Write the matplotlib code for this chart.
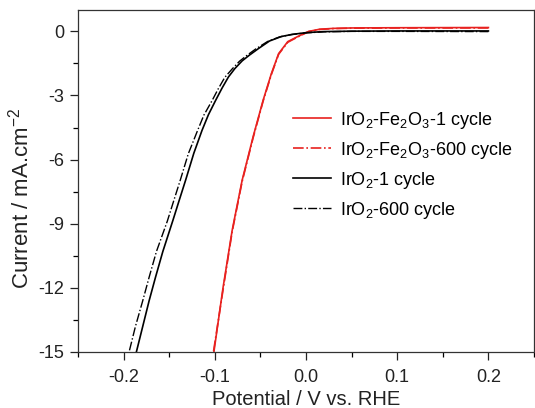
import matplotlib
matplotlib.use('Agg')
import matplotlib.pyplot as plt
from matplotlib.ticker import MultipleLocator

# 글꼴 설정 (Arial 대신 Liberation Sans)
plt.rcParams['font.family'] = ['Liberation Sans', 'DejaVu Sans']
plt.rcParams['mathtext.fontset'] = 'custom'
plt.rcParams['mathtext.rm'] = 'Liberation Sans'
plt.rcParams['mathtext.it'] = 'Liberation Sans:italic'
plt.rcParams['mathtext.bf'] = 'Liberation Sans:bold'
plt.rcParams['axes.unicode_minus'] = False  # 마이너스 기호는 하이픈으로

# IrO2-Fe2O3, 1 cycle
fe_1_x = [0.20, 0.10, 0.05, 0.03, 0.015, 0.003, -0.009, -0.020, -0.030, -0.038,
          -0.047, -0.058, -0.064, -0.070, -0.081, -0.091, -0.101]
fe_1_y = [0.18, 0.17, 0.16, 0.14, 0.10, 0.00, -0.24, -0.48, -1.04, -1.98,
          -3.22, -4.93, -5.95, -6.96, -9.32, -12.0, -15.0]
# IrO2-Fe2O3, 600 cycle
fe_600_x = [0.20, 0.10, 0.05, 0.03, 0.015, 0.003, -0.009, -0.020, -0.030, -0.038,
            -0.047, -0.058, -0.064, -0.070, -0.081, -0.091, -0.1015]
fe_600_y = [0.16, 0.16, 0.15, 0.13, 0.09, -0.01, -0.26, -0.51, -1.07, -2.02,
            -3.26, -4.98, -6.00, -7.02, -9.38, -12.1, -15.0]
# IrO2, 1 cycle
ir_1_x = [0.20, 0.10, 0.05, 0.02, 0.00, -0.015, -0.027, -0.040, -0.052, -0.062,
          -0.070, -0.078, -0.085, -0.092, -0.099, -0.107, -0.114, -0.123,
          -0.132, -0.139, -0.146, -0.157, -0.165, -0.172, -0.179, -0.186]
ir_1_y = [0.02, 0.02, 0.01, -0.01, -0.06, -0.14, -0.24, -0.45, -0.80, -1.11,
          -1.38, -1.74, -2.13, -2.65, -3.22, -3.90, -4.63, -5.70,
          -6.96, -7.90, -8.85, -10.3, -11.5, -12.6, -13.8, -15.0]
# IrO2, 600 cycle
ir_600_x = [0.20, 0.10, 0.05, 0.02, 0.00, -0.016, -0.029, -0.042, -0.055, -0.065,
            -0.073, -0.081, -0.089, -0.096, -0.103, -0.112, -0.119, -0.129,
            -0.138, -0.145, -0.152, -0.164, -0.172, -0.179, -0.187, -0.194]
ir_600_y = [-0.01, 0.00, 0.00, -0.02, -0.07, -0.15, -0.26, -0.47, -0.82, -1.13,
            -1.40, -1.76, -2.15, -2.67, -3.24, -3.92, -4.65, -5.72,
            -6.98, -7.92, -8.87, -10.3, -11.5, -12.6, -13.8, -15.0]

x_ticks = [-0.2, -0.1, 0.0, 0.1, 0.2]
y_ticks = [0, -3, -6, -9, -12, -15]

fig = plt.figure(figsize=(5.35, 4.08), dpi=100)
ax = fig.add_axes([78 / 535, (408 - 352) / 408, (534 - 78) / 535, (352 - 10) / 408])

ax.plot(fe_1_x, fe_1_y, color='#e8211f', lw=1.2, ls='-',
        label='IrO$_2$-Fe$_2$O$_3$-1 cycle')
ax.plot(fe_600_x, fe_600_y, color='#e8211f', lw=1.2, ls='-.',
        label='IrO$_2$-Fe$_2$O$_3$-600 cycle')
ax.plot(ir_1_x, ir_1_y, color='black', lw=1.2, ls='-',
        label='IrO$_2$-1 cycle')
ax.plot(ir_600_x, ir_600_y, color='black', lw=1.0, ls='-.',
        label='IrO$_2$-600 cycle')

ax.set_xlim(-0.25, 0.25)
ax.set_ylim(-15, 1.0)
ax.set_xticks(x_ticks)
ax.set_xticklabels(['%.1f' % v for v in x_ticks])
ax.set_yticks(y_ticks)
ax.xaxis.set_minor_locator(MultipleLocator(0.05))
ax.yaxis.set_minor_locator(MultipleLocator(1.5))
ax.tick_params(which='major', direction='out', length=6, width=0.9,
               labelsize=13, colors='#222222', pad=4)
ax.tick_params(axis='x', which='major', pad=6)
ax.tick_params(which='minor', direction='out', length=3.5, width=0.9)
for s in ax.spines.values():
    s.set_linewidth(0.9)
    s.set_color('#333333')

ax.set_xlabel('Potential / V vs. RHE', fontsize=14.5, color='#222222', labelpad=3)
ax.set_ylabel('Current / mA.cm$^{-2}$', fontsize=16, color='#222222')
ax.yaxis.set_label_coords(-0.097, 0.45)

ax.legend(loc='upper left', bbox_to_anchor=(0.455, 0.73), frameon=False,
          fontsize=13, handlelength=2.1, handletextpad=0.5, labelspacing=0.5,
          borderaxespad=0)

plt.savefig('out.png', dpi=100)
